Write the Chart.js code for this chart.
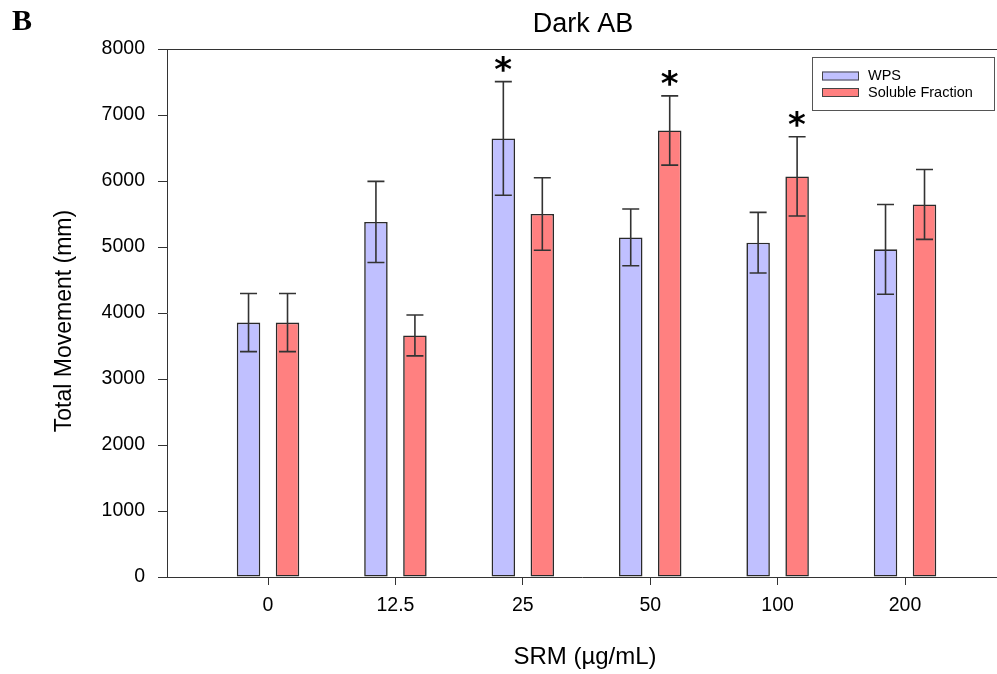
<!DOCTYPE html>
<html>
<head>
<meta charset="utf-8">
<style>
html,body{margin:0;padding:0;background:#fff;}
#wrap{width:997px;height:674px;position:relative;}
</style>
<script src="https://cdn.jsdelivr.net/npm/chart.js@4/dist/chart.umd.min.js"></script>
</head>
<body>
<div id="wrap"><canvas id="c" width="997" height="674"></canvas></div>
<script>
// ---- data ----
const categories = ['0', '12.5', '25', '50', '100', '200'];
const wpsMean = [3855, 5380, 6645, 5145, 5065, 4965];
const wpsErr  = [440, 615, 860, 430, 460, 680];
const solMean = [3855, 3660, 5500, 6765, 6070, 5645];
const solErr  = [440, 310, 550, 525, 600, 530];
const wpsSig  = [false, false, true, false, false, false];
const solSig  = [false, false, false, true, true, false];
const yTicks  = [0, 1000, 2000, 3000, 4000, 5000, 6000, 7000, 8000];
const seriesNames = ['WPS', 'Soluble Fraction'];
const chartTitle = 'Dark AB';
const panelLetter = 'B';
const xTitle = 'SRM (\u00B5g/mL)';
const yTitle = 'Total Movement (mm)';

const SANS = '"Liberation Sans", Arial, sans-serif';
const AXIS = '#333';

const errs = [wpsErr, solErr];
const means = [wpsMean, solMean];
const sigs = [wpsSig, solSig];

const decorPlugin = {
  id: 'decor',
  afterDatasetsDraw(chart) {
    const ctx = chart.ctx;
    const y = chart.scales.y;
    const area = chart.chartArea;
    ctx.save();
    // top frame line
    ctx.strokeStyle = AXIS;
    ctx.lineWidth = 1;
    ctx.beginPath();
    ctx.moveTo(area.left, Math.round(area.top) + 0.5);
    ctx.lineTo(area.right, Math.round(area.top) + 0.5);
    ctx.stroke();
    // error bars + asterisks
    chart.data.datasets.forEach((ds, di) => {
      const meta = chart.getDatasetMeta(di);
      meta.data.forEach((el, i) => {
        const m = means[di][i], e = errs[di][i];
        const yt = y.getPixelForValue(m + e);
        const yb = y.getPixelForValue(m - e);
        const cx = el.x;
        ctx.strokeStyle = '#333';
        ctx.lineWidth = 1.6;
        ctx.beginPath();
        ctx.moveTo(cx, yt); ctx.lineTo(cx, yb);
        ctx.moveTo(cx - 8.5, yt); ctx.lineTo(cx + 8.5, yt);
        ctx.moveTo(cx - 8.5, yb); ctx.lineTo(cx + 8.5, yb);
        ctx.stroke();
        if (sigs[di][i]) {
          ctx.fillStyle = '#000';
          ctx.font = 'bold 34px "DejaVu Sans", sans-serif';
          ctx.textAlign = 'left';
          ctx.textBaseline = 'alphabetic';
          const mt = ctx.measureText('*');
          const asc = mt.actualBoundingBoxAscent, desc = mt.actualBoundingBoxDescent;
          const l = mt.actualBoundingBoxLeft, r = mt.actualBoundingBoxRight;
          const cy = yt - 18;
          ctx.fillText('*', cx - (r - l) / 2, cy + (asc - desc) / 2);
        }
      });
    });
    ctx.restore();
  },
  afterDraw(chart) {
    const ctx = chart.ctx;
    ctx.save();
    ctx.fillStyle = '#000';
    // panel letter
    ctx.font = 'bold 30px "Liberation Serif", "Times New Roman", serif';
    ctx.textAlign = 'left';
    ctx.textBaseline = 'alphabetic';
    ctx.fillText(panelLetter, 12, 30);
    // title
    ctx.font = '27px ' + SANS;
    ctx.textAlign = 'center';
    ctx.fillText(chartTitle, 583, 32);
    // x title
    ctx.font = '24px ' + SANS;
    ctx.fillText(xTitle, 585, 664);
    // y title
    ctx.save();
    ctx.translate(71, 321);
    ctx.rotate(-Math.PI / 2);
    ctx.font = '23px ' + SANS;
    ctx.fillText(yTitle, 0, 0);
    ctx.restore();
    // legend
    const bx = 812, by = 57, bw = 182, bh = 53;
    ctx.strokeStyle = '#555';
    ctx.lineWidth = 1;
    ctx.fillStyle = '#fff';
    ctx.fillRect(bx, by, bw, bh);
    ctx.strokeRect(bx + 0.5, by + 0.5, bw, bh);
    chart.data.datasets.forEach((ds, di) => {
      const sy = 71.5 + di * 16.5;
      ctx.fillStyle = ds.backgroundColor;
      ctx.fillRect(822, sy, 37, 9);
      ctx.strokeStyle = '#444';
      ctx.lineWidth = 1;
      ctx.strokeRect(822.5, sy + 0.5, 36, 8);
      ctx.fillStyle = '#000';
      ctx.font = '14.5px ' + SANS;
      ctx.textAlign = 'left';
      ctx.textBaseline = 'middle';
      ctx.fillText(ds.label, 868, sy + 4.5);
    });
    ctx.restore();
  }
};

const tickFont = { family: SANS, size: 19.5 };

new Chart(document.getElementById('c'), {
  type: 'bar',
  data: {
    datasets: [
      {
        label: seriesNames[0],
        data: categories.map((c, i) => ({ x: i, y: wpsMean[i] })),
        backgroundColor: '#c0c0ff',
        borderColor: '#2a2a2a',
        borderWidth: 1.6,
        borderSkipped: false,
        categoryPercentage: 0.612,
        barPercentage: 0.603
      },
      {
        label: seriesNames[1],
        data: categories.map((c, i) => ({ x: i, y: solMean[i] })),
        backgroundColor: '#ff8080',
        borderColor: '#2a2a2a',
        borderWidth: 1.6,
        borderSkipped: false,
        categoryPercentage: 0.612,
        barPercentage: 0.603
      }
    ]
  },
  options: {
    responsive: false,
    animation: false,
    devicePixelRatio: 1,
    layout: { padding: { top: 49, left: 0, right: 0, bottom: 0 } },
    plugins: {
      legend: { display: false },
      title: { display: false },
      tooltip: { enabled: false }
    },
    scales: {
      x: {
        type: 'linear',
        offset: false,
        min: -0.793,
        max: 5.722,
        afterBuildTicks: s => { s.ticks = categories.map((c, i) => ({ value: i })); },
        ticks: {
          callback: v => categories[v],
          font: tickFont,
          color: '#000',
          padding: 9,
          autoSkip: false,
          maxRotation: 0
        },
        grid: { display: true, offset: false, drawOnChartArea: false, drawTicks: true, tickLength: 8, color: AXIS, lineWidth: 1 },
        border: { display: true, color: AXIS, width: 1 },
        afterFit: s => { s.height = 97; }
      },
      y: {
        min: 0,
        max: 8000,
        afterBuildTicks: s => { s.ticks = yTicks.map(v => ({ value: v })); },
        ticks: { font: tickFont, color: '#000', padding: 13, callback: v => String(v) },
        grid: { display: true, drawOnChartArea: false, drawTicks: true, tickLength: 9, color: AXIS, lineWidth: 1 },
        border: { display: true, color: AXIS, width: 1 },
        afterFit: s => { s.width = 167; }
      }
    }
  },
  plugins: [decorPlugin]
});
</script>
</body>
</html>
